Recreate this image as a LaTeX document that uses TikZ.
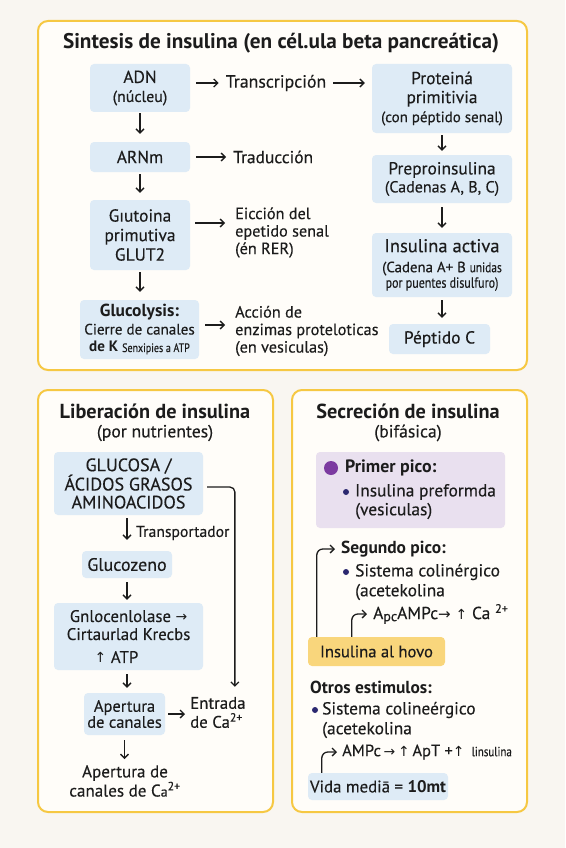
\documentclass[tikz,border=0pt]{standalone}
\usepackage{fontspec}
\setmainfont{PT Sans}[UprightFeatures={FakeBold=0.3}]
\newfontfamily\symf{DejaVu Sans}
\newfontfamily\narrowf[FakeStretch=0.82,FakeBold=0.3]{PT Sans}
\usetikzlibrary{arrows.meta}
\definecolor{bgc}{HTML}{F9F6F1}
\definecolor{panelbg}{HTML}{FFFDF9}
\definecolor{panelln}{HTML}{F6C843}
\definecolor{boxblue}{HTML}{DEEBF6}
\definecolor{boxpurp}{HTML}{E9E0EF}
\definecolor{boxyel}{HTML}{F9D67C}
\definecolor{dotpurp}{HTML}{7B3AA0}
\definecolor{dotnavy}{HTML}{2B2870}
\definecolor{ink}{HTML}{1C1C1C}
\makeatletter
\newcommand\myfs[2]{\edef\my@sz{\strip@pt\dimexpr #1pt*116/100\relax}\fontsize{\my@sz}{#2}\selectfont}
\makeatother
\begin{document}
\begin{tikzpicture}[x=1pt,y=-1pt,
  panel/.style={draw=panelln, line width=2pt, rounded corners=10pt, fill=panelbg, inner sep=0pt},
  bx/.style={fill=boxblue, rounded corners=4pt, inner sep=0pt, align=center, text=ink},
  txt/.style={inner sep=0pt, align=left, text=ink, font=\myfs{15}{18}},
  ttl/.style={inner sep=0pt, align=center, text=ink, font=\bfseries\myfs{18.3}{20}},
  sttl/.style={inner sep=0pt, align=center, text=ink, font=\bfseries\myfs{17.5}{20}},
  sub/.style={inner sep=0pt, align=center, text=ink, font=\myfs{15.2}{18}},
  arr/.style={draw=ink, line width=1.3pt, -{Straight Barb[length=4pt,width=8pt]}},
  bigdot/.style={circle, fill=dotpurp, inner sep=0pt, minimum size=14pt},
  smdot/.style={circle, fill=dotnavy, inner sep=0pt, minimum size=6pt}]
\fill[bgc] (0,0) rectangle (565,848);
\useasboundingbox (0,0) rectangle (565,848);

% ---------- top panel ----------
\node[panel, minimum width=489pt, minimum height=349pt] (p1) at (282.5,195.5) {};
\node[ttl] (t1) at (281,43) {Sintesis de insulina (en cél.ula beta pancreática)};

\node[bx, minimum width=100pt, minimum height=48pt, font=\myfs{15}{19}] (adn) at (140,88) {ADN\\{\myfs{13.7}{19}(núcleu)}};
\node[txt, font=\myfs{15.3}{18}] (transc) at (276,83) {Transcripción};
\node[bx, minimum width=140pt, minimum height=69pt, font=\myfs{15}{19}] (prot) at (442,98.5) {Proteiná\\primitivia\\{\myfs{12.9}{19}(con péptido senal)}};
\node[bx, minimum width=140pt, minimum height=48pt, font=\myfs{15}{18}] (prepro) at (442,179) {Preproinsulina\\{\myfs{13.8}{18}(Cadenas A, B, C)}};
\node[bx, minimum width=140pt, minimum height=64pt, font=\myfs{16}{18}] (act) at (442,265) {Insulina activa\\[2pt]{\myfs{12.8}{13}(Cadena A+ B {\narrowf\myfs{12}{13}unidas}}\\[-2.5pt]{\narrowf\myfs{12.6}{13}por puentes disulfuro)}};
\node[bx, minimum width=101pt, minimum height=30pt, font=\myfs{15}{18}] (pep) at (439.5,339) {Péptido C};

\node[bx, minimum width=100pt, minimum height=30pt, font=\myfs{15}{18}] (arnm) at (140,157) {ARNm};
\node[txt, anchor=west] (trad) at (233,157) {Traducción};
\node[bx, minimum width=100pt, minimum height=70pt, font=\myfs{15}{19.5}] (glut) at (140,235) {Gıutoina\\primutiva\\GLUT2};
\node[txt, anchor=west, font=\myfs{14}{17.5}] (eic) at (235,232.5) {Eicción del\\epetido senal\\(én RER)};
\node[bx, minimum width=119pt, minimum height=59pt, font=\myfs{13}{17.5}] (gluc) at (139.5,329.5) {{\bfseries\myfs{15}{17.5}Glucolysis:}\\Cierre de canales\\{\bfseries de K} {\narrowf\myfs{10.5}{17.5}Senxipies a ATP}};
\node[txt, anchor=west, font=\myfs{14}{17.5}] (acc) at (235,331) {Acción de\\enzimas proteloticas\\(en vesiculas)};

\draw[arr, shorten <=6pt, shorten >=7pt] (adn.east |- transc.west) -- (transc.west);
\draw[arr, shorten <=7pt, shorten >=7pt] (transc.east) -- (prot.west |- transc.east);
\draw[arr, shorten <=2pt, shorten >=4pt] (prot.south) -- (prepro.north);
\draw[arr, shorten <=4pt, shorten >=5pt] (prepro.south) -- (act.north);
\draw[arr, shorten <=3pt, shorten >=6pt] (act.south) -- (act.south |- pep.north);
\draw[arr, shorten <=1pt, shorten >=8pt] (adn.south) -- (arnm.north);
\draw[arr, shorten <=6pt, shorten >=7pt] (arnm.east) -- (trad.west);
\draw[arr, shorten <=2pt, shorten >=7pt] (arnm.south) -- (glut.north);
\draw[arr, shorten <=5pt, shorten >=10pt] ([yshift=12pt]glut.east) -- ([yshift=12pt]glut.east -| eic.west);
\draw[arr, shorten <=2pt, shorten >=8pt] (glut.south) -- (glut.south |- gluc.north);
\draw[arr, shorten <=6pt, shorten >=10pt] ([yshift=4.5pt]gluc.east) -- ([yshift=4.5pt]gluc.east -| acc.west);

% ---------- bottom-left panel ----------
\node[panel, minimum width=235pt, minimum height=422pt] (p2) at (155.5,601) {};
\node[sttl] (t2) at (155,411) {Liberación de insulina};
\node[sub] (t2b) at (155,433) {(por nutrientes)};
\node[bx, minimum width=149pt, minimum height=63pt, font=\myfs{15.6}{18}] (gl) at (128.5,483.5) {GLUCOSA /\\ÁCIDOS GRASOS\\AMINOACIDOS};
\node[bx, minimum width=90pt, minimum height=27pt, font=\myfs{15.5}{18}] (gz) at (127,564.5) {Glucozeno};
\node[txt, anchor=west, font=\myfs{13.5}{18}] (tr) at (136,533) {Transportador};
\node[bx, minimum width=149pt, minimum height=67pt, font=\myfs{14.5}{18}] (gn) at (128.5,636.5) {Gnlocenlolase {\symf\myfs{12}{18}→}\\Cirtaurlad Krecbs\\[5pt]{\symf\myfs{12}{18}↑} ATP\rule{24pt}{0pt}};
\node[bx, minimum width=81pt, minimum height=42pt, font=\myfs{14.2}{16}] (ap) at (124.5,714) {Apertura\\de canales};
\node[txt, anchor=west, font=\myfs{14.5}{19}] (entr) at (190,712.5) {Entrada\\de Ca\textsuperscript{2+}};
\node[txt, align=center, font=\myfs{14.7}{18}] (apc) at (125,781) {Apertura de\\canales de C{\myfs{12}{18}a}\textsuperscript{2+}};

\draw[arr, rounded corners=5pt, shorten <=4pt, shorten >=10pt] ([yshift=-3.5pt]gl.east) -| ([xshift=17pt]entr.north);
\draw[arr, shorten <=3pt, shorten >=11pt] (gz.north |- gl.south) -- (gz.north);
\draw[arr, shorten <=4pt, shorten >=3pt] (gz.south) -- (gz.south |- gn.north);
\draw[arr, shorten <=4pt, shorten >=5pt] ([xshift=-1.5pt]gn.south) -- ([xshift=-1.5pt]gn.south |- ap.north);
\draw[arr, shorten <=3pt, shorten >=5pt] (ap.east) -- (ap.east -| entr.west);
\draw[arr, shorten <=5pt, shorten >=6pt] (ap.south) -- (ap.south |- apc.north);

% ---------- bottom-right panel ----------
\node[panel, minimum width=235pt, minimum height=422pt] (p3) at (409.5,601) {};
\node[sttl] (t3) at (408,411) {Secreción de insulina};
\node[sub] (t3b) at (408,433) {(bifásica)};
\node[fill=boxpurp, rounded corners=4pt, minimum width=189pt, minimum height=76pt, inner sep=0pt] (pb) at (410.5,490) {};
\node[bigdot] (d1) at (331,468) {};
\node[txt, anchor=west, font=\bfseries\myfs{15.4}{18}] (pp) at (345,468) {Primer pico:};
\node[smdot] (d2) at (346,492) {};
\node[txt, anchor=west] (ipf) at (355,492) {Insulina preformda};
\node[txt, anchor=west] (ves) at (355,511) {(vesiculas)};

\node[txt, anchor=west, font=\bfseries\myfs{15}{18}] (seg) at (341,549) {Segundo pico:};
\node[smdot] (d3) at (346,572) {};
\node[txt, anchor=west] (sc1) at (355,572) {Sistema colinérgico};
\node[txt, anchor=west] (ac1) at (355,592) {(acetekolina};
\node[txt, anchor=west] (ca) at (373,614) {A\raisebox{-2pt}{\myfs{12}{12}pc}AMPc{\symf\myfs{13}{12}→}\;{\symf\myfs{12}{12}↑}\;Ca\;\textsuperscript{2+}};
\node[fill=boxyel, rounded corners=4pt, minimum width=137pt, minimum height=29pt, inner sep=0pt, text=ink, font=\myfs{14.3}{18}] (yb) at (376.5,651.5) {Insulina al hovo};

\node[txt, anchor=west, font=\bfseries\myfs{15}{18}] (ot) at (310,687) {Otros estimulos:};
\node[smdot] (d4) at (315,710) {};
\node[txt, anchor=west] (sc2) at (322,710) {Sistema colineérgico};
\node[txt, anchor=west] (ac2) at (322,730) {(acetekolina};
\node[txt, anchor=west, font=\myfs{14.2}{18}] (am) at (342,752) {AMPc\,{\symf\myfs{12}{12}→}\,{\symf\myfs{12}{12}↑}\,ApT +{\symf\myfs{12}{12}↑}\, {\narrowf\myfs{11.5}{12}linsulina}};
\node[bx, minimum width=140pt, minimum height=27pt, font=\myfs{14.5}{18}] (vb) at (378,786.5) {Vida mediā = \textbf{10mt}};

\draw[arr, rounded corners=6pt, shorten >=6pt] ([xshift=9pt]yb.north west) |- (seg.west);
\draw[arr, rounded corners=6pt, shorten >=6pt] ([xshift=44pt]yb.north west) |- (ca.west);
\draw[arr, rounded corners=6pt, shorten >=5pt] ([xshift=14pt]vb.north west) |- (am.west);
\end{tikzpicture}
\end{document}
